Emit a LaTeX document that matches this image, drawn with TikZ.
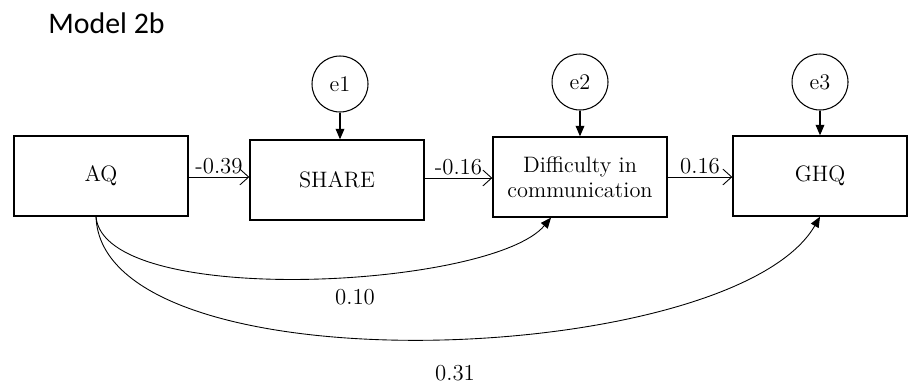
\documentclass[tikz,border=0pt]{standalone}
\usepackage{fontspec}
\usepackage{tikz}
\usetikzlibrary{arrows.meta}
\newfontfamily\titlefont{Carlito}

\begin{document}
\begin{tikzpicture}[x=0.02cm, y=-0.02cm,
    var/.style={draw, line width=0.8pt, minimum width=3.48cm, minimum height=1.6cm, align=center, font=\fontsize{12.7}{14}\selectfont},
    err/.style={draw, circle, line width=0.6pt, minimum size=1.12cm, inner sep=0pt, font=\fontsize{12.7}{14}\selectfont},
    path/.style={draw, line width=0.5pt, -{Straight Barb[length=5pt, width=9pt]}},
    res/.style={draw, line width=0.6pt, -{Triangle[length=6pt, width=5pt]}},
    cov/.style={draw, line width=0.5pt, -{Triangle[length=6pt, width=5pt]}},
    coef/.style={font=\fontsize{13}{14}\selectfont, inner sep=1.5pt}]
    \useasboundingbox (0,0) rectangle (911,386);

    \node[anchor=base west, font=\titlefont\fontsize{17}{18}\selectfont, inner sep=0pt] (title) at (48,33) {Model 2b};

    \node[var] (aq) at (101,176) {AQ};
    \node[var] (share) at (337,180) {SHARE};
    \node[var] (diff) at (580,177) {Difficulty in\\communication};
    \node[var] (ghq) at (820,176) {GHQ};

    \node[err] (eone) at (340,84) {e1};
    \node[err] (etwo) at (580,82) {e2};
    \node[err] (ethree) at (820,82) {e3};

    \draw[res] (eone) -- (eone |- share.north);
    \draw[res] (etwo) -- (diff);
    \draw[res] (ethree) -- (ghq);

    \draw[path] (aq.east |- 0,177) -- node[coef, above] {-0.39} (share.west |- 0,177);
    \draw[path] (share.east |- 0,178) -- node[coef, above] {-0.16} (diff.west |- 0,178);
    \draw[path] (diff.east |- 0,177) -- node[coef, above] {0.16} (ghq.west |- 0,177);

    \draw[cov] ([xshift=-0.1cm]aq.south) to[out=-85, in=-130, looseness=0.52] ([xshift=-0.58cm]diff.south);
    \draw[cov] ([xshift=-0.1cm]aq.south) to[out=-88, in=-120, looseness=0.62] (ghq.south);

    \node[coef] (rone) at (355,297) {0.10};
    \node[coef] (rtwo) at (455,373) {0.31};
  \end{tikzpicture}
\end{document}
